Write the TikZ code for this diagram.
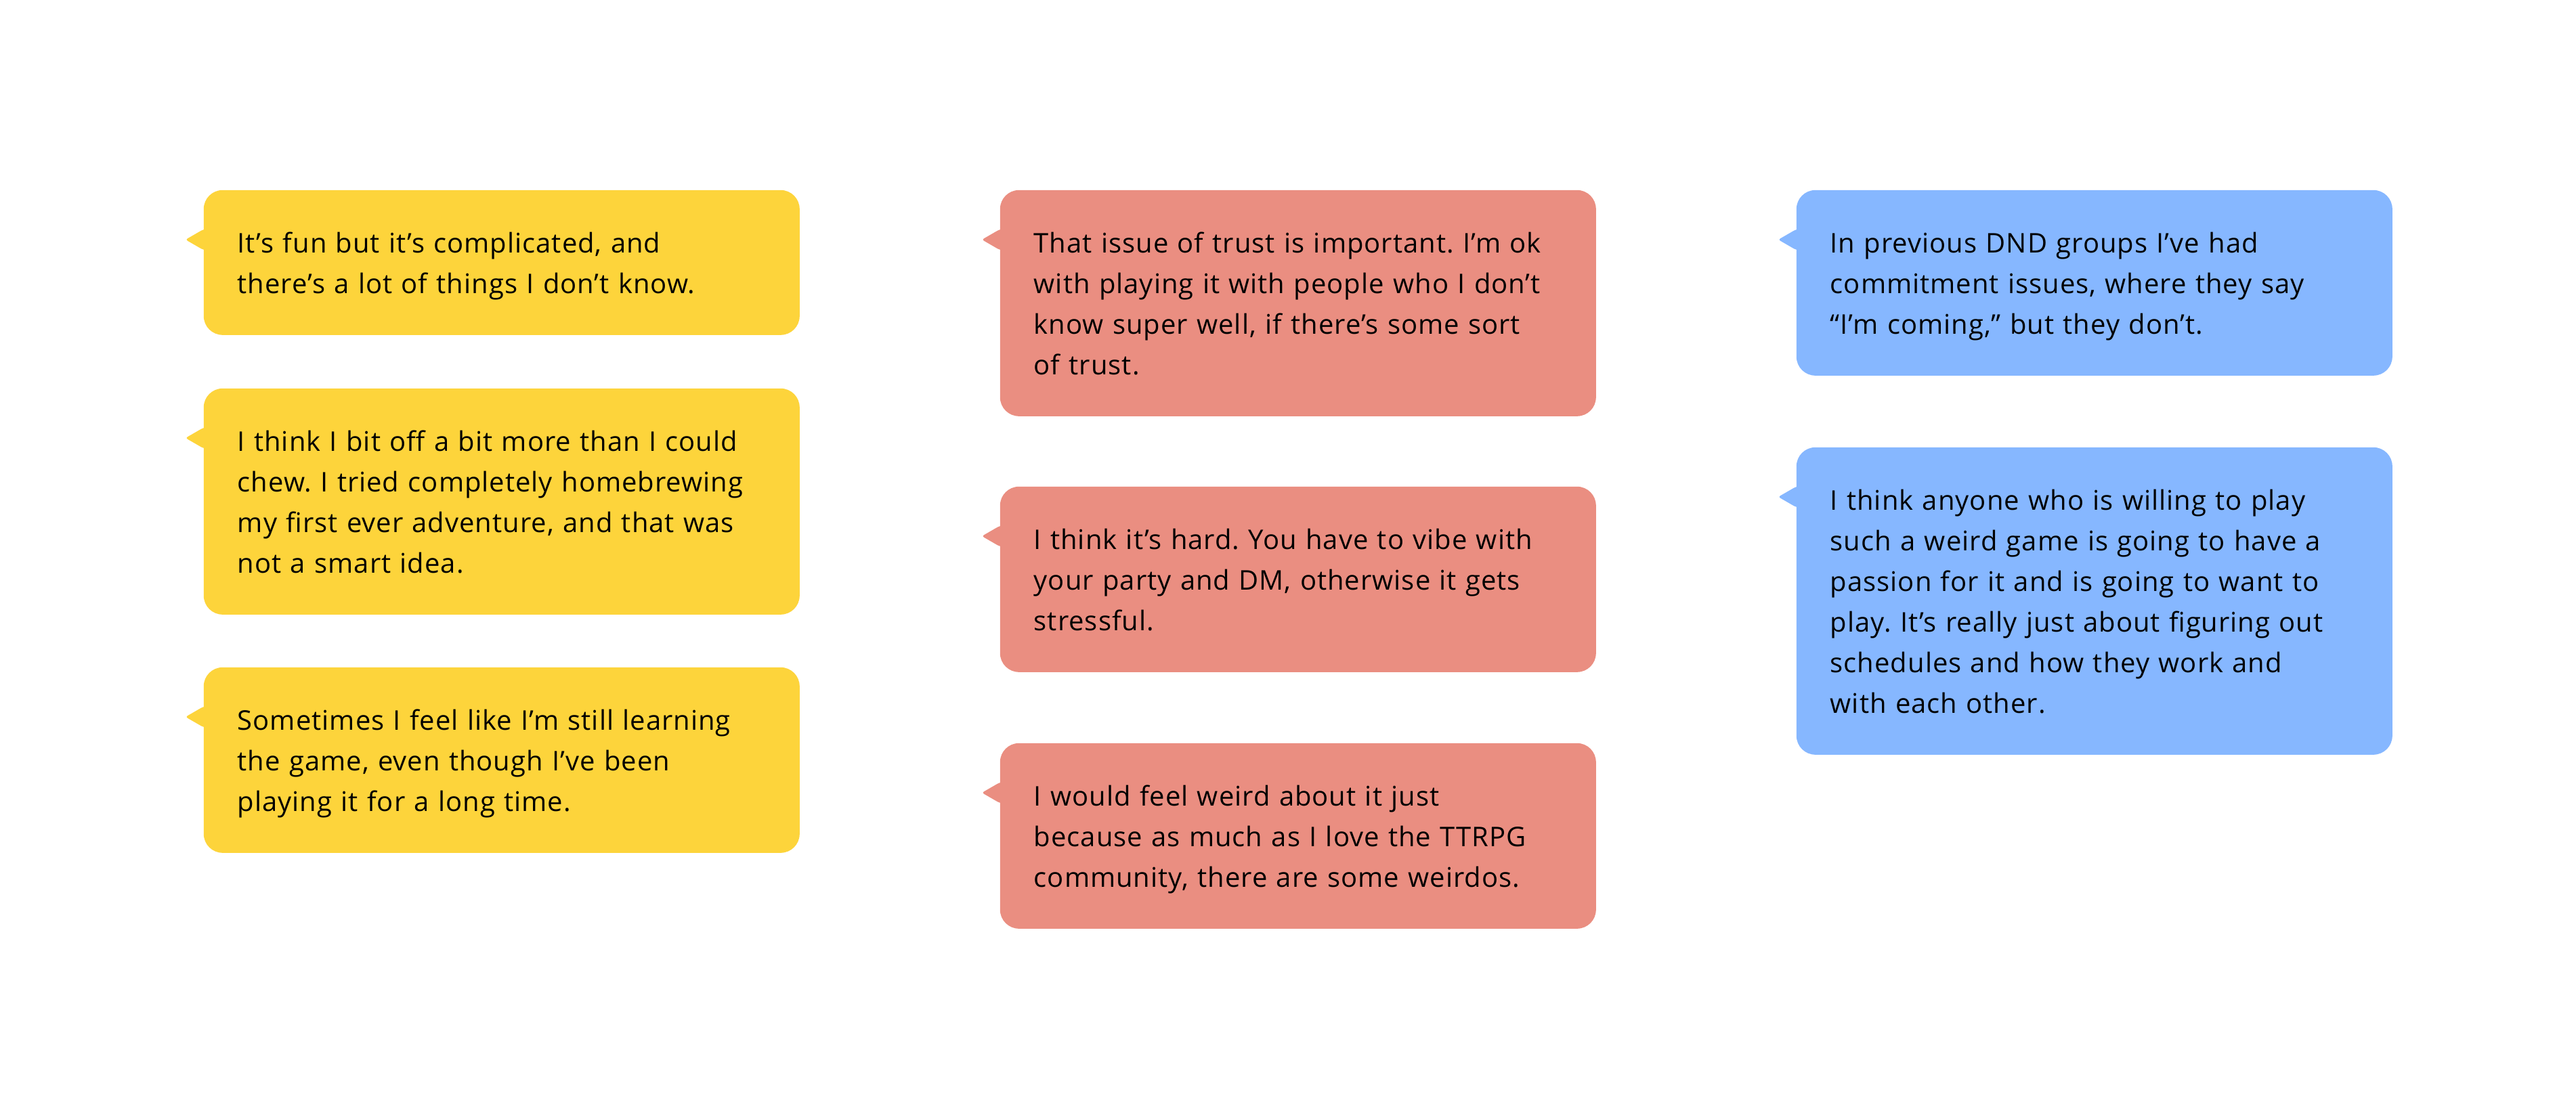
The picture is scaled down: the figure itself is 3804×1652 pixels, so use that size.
\documentclass[tikz,border=0pt]{standalone}
\usepackage{fontspec}
\setmainfont{Open Sans}[LetterSpace=2.5]
\definecolor{bylw}{RGB}{253,212,59}
\definecolor{bred}{RGB}{234,142,129}
\definecolor{bblu}{RGB}{134,183,255}
\newcommand\bstrut{\rule[-3.5pt]{0pt}{15pt}}
\newcommand\bl[1]{\mbox{\bstrut#1}}
\tikzset{
  bubble/.style={anchor=north west, rectangle, rounded corners=7pt, fill=#1,
    text width=195pt, inner xsep=12.5pt, inner ysep=11.75pt, align=left,
    font=\fontsize{10pt}{15pt}\selectfont\frenchspacing, text=black},
  tail/.style={fill=#1, rounded corners=0.8pt}
}
\newcommand\tailat[2]{%
  \fill[tail=#2] ([xshift=1pt,yshift=-14.75pt]#1.north west) -- ([xshift=0pt,yshift=-14.75pt]#1.north west)
    -- ([xshift=-6.5pt,yshift=-18.5pt]#1.north west) -- ([xshift=0pt,yshift=-22.25pt]#1.north west)
    -- ([xshift=1pt,yshift=-22.25pt]#1.north west) -- cycle;}
\begin{document}
\begin{tikzpicture}[x=0.25pt,y=-0.25pt]
\useasboundingbox[fill=white] (0,0) rectangle (3804,1652);
% column 1
\node[bubble=bylw] (a1) at (300,280) {\bl{It’s fun but it’s complicated, and}\\\bl{there’s a lot of things I don’t know.}};
\node[bubble=bylw] (a2) at (300,573) {\bl{I think I bit off a bit more than I could}\\\bl{chew. I tried completely homebrewing}\\\bl{my first ever adventure, and that was}\\\bl{not a smart idea.}};
\node[bubble=bylw] (a3) at (300,985) {\bl{Sometimes I feel like I’m still learning}\\\bl{the game, even though I’ve been}\\\bl{playing it for a long time.}};
% column 2
\node[bubble=bred] (b1) at (1476,280) {\bl{That issue of trust is important. I’m ok}\\\bl{with playing it with people who I don’t}\\\bl{know super well, if there’s some sort}\\\bl{of trust.}};
\node[bubble=bred] (b2) at (1476,718) {\bl{I think it’s hard. You have to vibe with}\\\bl{your party and DM, otherwise it gets}\\\bl{stressful.}};
\node[bubble=bred] (b3) at (1476,1097) {\bl{I would feel weird about it just}\\\bl{because as much as I love the TTRPG}\\\bl{community, there are some weirdos.}};
% column 3
\node[bubble=bblu] (c1) at (2652,280) {\bl{In previous DND groups I’ve had}\\\bl{commitment issues, where they say}\\\bl{“I’m coming,” but they don’t.}};
\node[bubble=bblu] (c2) at (2652,660) {\bl{I think anyone who is willing to play}\\\bl{such a weird game is going to have a}\\\bl{passion for it and is going to want to}\\\bl{play. It’s really just about figuring out}\\\bl{schedules and how they work and}\\\bl{with each other.}};
\tailat{a1}{bylw}\tailat{a2}{bylw}\tailat{a3}{bylw}
\tailat{b1}{bred}\tailat{b2}{bred}\tailat{b3}{bred}
\tailat{c1}{bblu}\tailat{c2}{bblu}
\end{tikzpicture}
\end{document}
